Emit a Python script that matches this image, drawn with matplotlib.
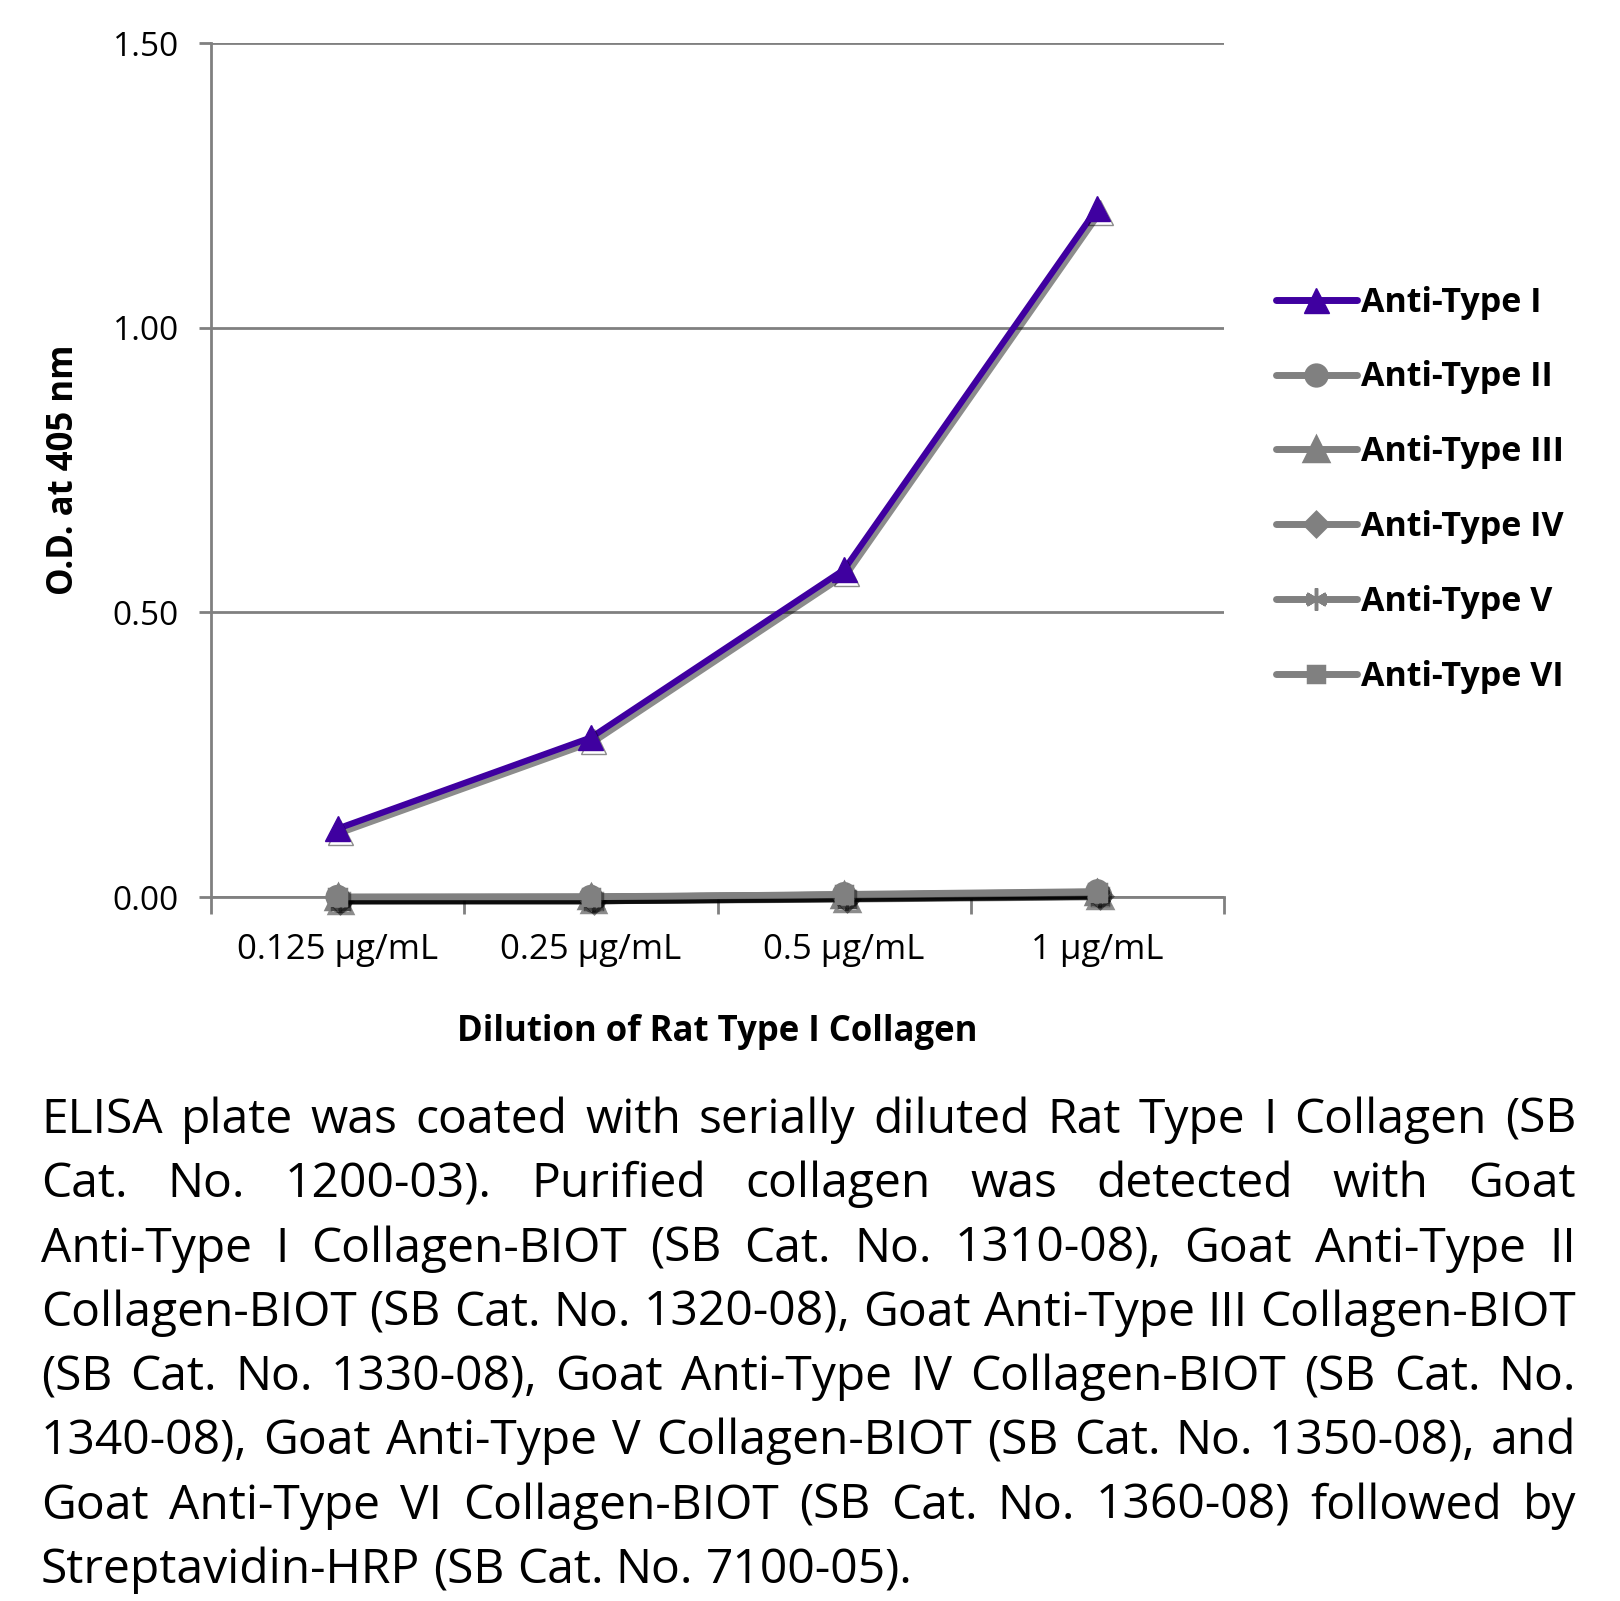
import numpy as np
import matplotlib
matplotlib.use("Agg")
import matplotlib.pyplot as plt
import matplotlib.patheffects as pe
from matplotlib.lines import Line2D

plt.rcParams['font.family'] = ['Open Sans', 'DejaVu Sans']

# data
concentrations = ["0.125 µg/mL", "0.25 µg/mL", "0.5 µg/mL", "1 µg/mL"]
series_names = ["Anti-Type I", "Anti-Type II", "Anti-Type III",
                "Anti-Type IV", "Anti-Type V", "Anti-Type VI"]
type1 = [0.12, 0.28, 0.575, 1.21]
type2 = [0.0, 0.0, 0.005, 0.01]
type3 = [0.0, 0.001, 0.004, 0.008]
type4 = [0.0, 0.0, 0.004, 0.009]
type5 = [0.0, 0.0, 0.003, 0.007]
type6 = [0.0, 0.0, 0.004, 0.008]
yticks = [0.0, 0.5, 1.0, 1.5]

caption_lines = [
    "ELISA plate was coated with serially diluted Rat Type I Collagen (SB",
    "Cat. No. 1200-03).  Purified collagen was detected with Goat",
    "Anti-Type I Collagen-BIOT (SB Cat. No. 1310-08), Goat Anti-Type II",
    "Collagen-BIOT (SB Cat. No. 1320-08), Goat Anti-Type III Collagen-BIOT",
    "(SB Cat. No. 1330-08), Goat Anti-Type IV Collagen-BIOT (SB Cat. No.",
    "1340-08), Goat Anti-Type V Collagen-BIOT (SB Cat. No. 1350-08), and",
    "Goat Anti-Type VI Collagen-BIOT (SB Cat. No. 1360-08) followed by",
    "Streptavidin-HRP (SB Cat. No. 7100-05).",
]

W, H = 1620, 1601
fig = plt.figure(figsize=(W / 100, H / 100), dpi=100)
ax = fig.add_axes([211 / W, 1 - 897 / H, (1224 - 211) / W, (897 - 43) / H])

purple = "#3f00a0"
gray = "#808080"
shadow = [pe.SimpleLineShadow(offset=(2, -3), shadow_color="k", alpha=0.45),
          pe.Normal()]

x = np.arange(len(concentrations))
gray_series = [(type2, "o", 15), (type3, "^", 17), (type4, "D", 12),
               (type5, (6, 2, 0), 16), (type6, "s", 12)]
handles = []
ax.plot(x, type1, color=purple, lw=4.5, marker="^", ms=18,
        zorder=5, path_effects=shadow, solid_capstyle="round")
handles.append(Line2D([], [], color=purple, lw=5, marker="^", ms=18,
                      solid_capstyle="round"))
for vals, mk, ms in gray_series:
    ax.plot(x, vals, color=gray, lw=4.5, marker=mk, ms=ms, mew=2.5,
            zorder=4, path_effects=shadow, clip_on=False)
    handles.append(Line2D([], [], color=gray, lw=5, marker=mk, ms=ms,
                          mew=2.5, solid_capstyle="round"))

ax.set_xlim(-0.5, 3.5)
ax.set_ylim(0, 1.5)
ax.set_yticks(yticks)
ax.set_yticklabels(["%.2f" % v for v in yticks], fontsize=24)
ax.set_xticks(x)
ax.set_xticklabels(concentrations, fontsize=25)
ax.set_xticks(np.arange(-0.5, 4, 1), minor=True)
ax.tick_params(axis="x", which="major", length=0, pad=26)
ax.tick_params(axis="x", which="minor", length=12, width=2, color=gray,
               direction="out")
ax.tick_params(axis="y", length=9, width=2, color=gray, pad=14)
ax.grid(axis="y", color=gray, lw=2)
ax.set_axisbelow(True)
for s in ["top", "right"]:
    ax.spines[s].set_visible(False)
for s in ["left", "bottom"]:
    ax.spines[s].set_color(gray)
    ax.spines[s].set_linewidth(2)

ax.set_ylabel("O.D. at 405 nm", fontsize=25, fontweight="bold", labelpad=22)
ax.set_xlabel("Dilution of Rat Type I Collagen", fontsize=25,
              fontweight="bold", labelpad=34)

fig.legend(handles, series_names, loc="upper left",
           bbox_to_anchor=(1262 / W, 1 - 272 / H), frameon=False,
           prop={"size": 24.5, "weight": "bold"}, handlelength=2.4,
           handletextpad=0.1, labelspacing=1.2, borderaxespad=0)

# justified caption
renderer = fig.canvas.get_renderer()
left, right = 41, 1576
avail = right - left


def measure(s, fs):
    t = fig.text(0, 0, s, fontsize=fs)
    w = t.get_window_extent(renderer).width
    t.remove()
    return w


fs = 30
space = measure("x x", fs) - measure("xx", fs)
natural = [sum(measure(w, fs) for w in ln.split()) + space * (len(ln.split()) - 1)
           for ln in caption_lines[:-1]]
fs = fs * avail / max(natural)

baselines = np.linspace(1133, 1583, len(caption_lines))
for i, ln in enumerate(caption_lines):
    words = ln.split()
    widths = [measure(w, fs) for w in words]
    if i < len(caption_lines) - 1:
        gap = (avail - sum(widths)) / (len(words) - 1)
    else:
        gap = measure("x x", fs) - measure("xx", fs)
    xpos = left
    for w, wd in zip(words, widths):
        fig.text(xpos / W, 1 - baselines[i] / H, w, fontsize=fs,
                 va="baseline", ha="left")
        xpos += wd + gap

fig.savefig("out.png", dpi=100)
